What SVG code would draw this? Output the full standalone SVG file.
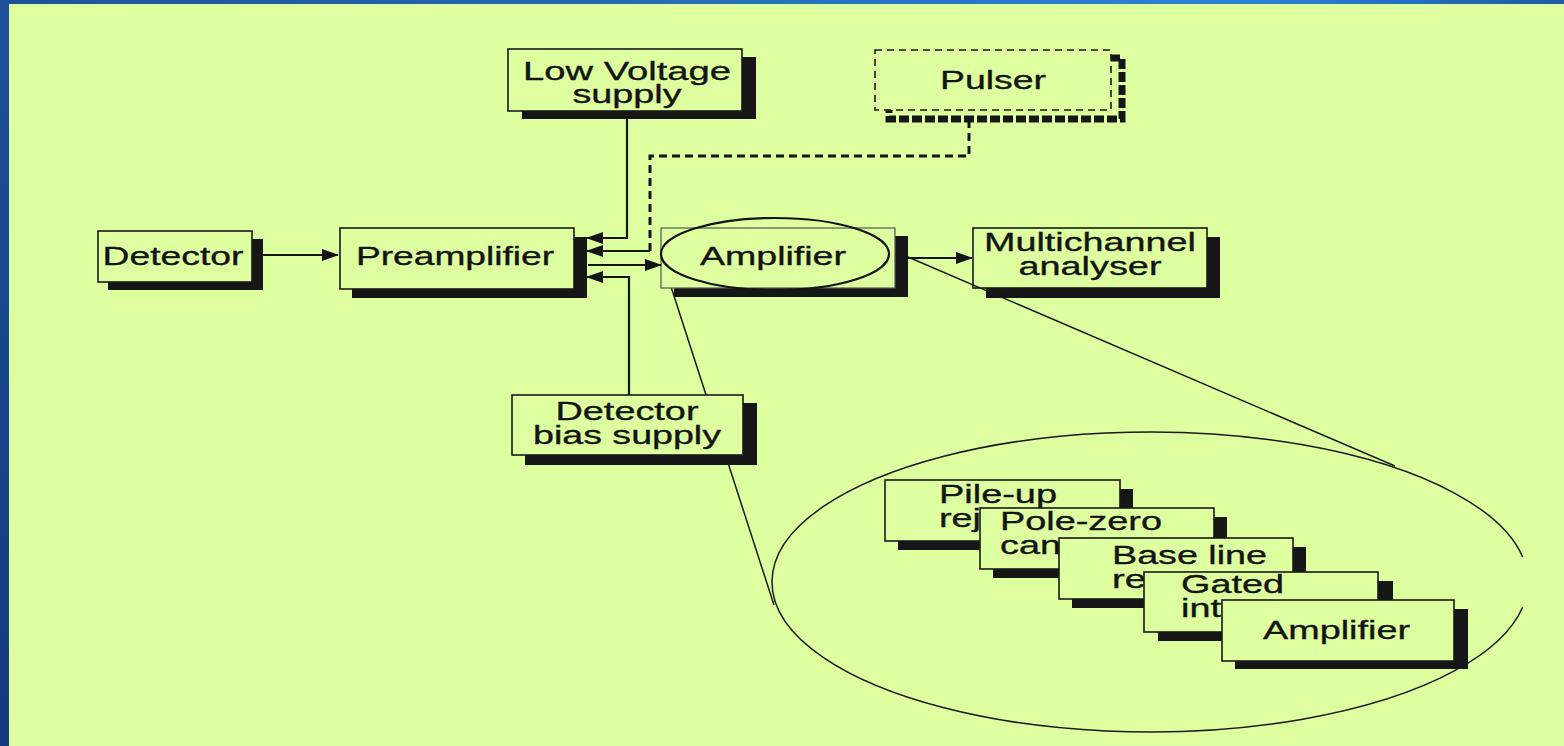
<svg xmlns="http://www.w3.org/2000/svg" width="1564" height="746" viewBox="0 0 1564 746">
<style>
.bx{fill:#DDFFA0;stroke:#1a1a1a;stroke-width:1.6}
.bxl{fill:#DDFFA0;stroke:#555;stroke-width:1.2}
.sh{fill:#161616}
.t{font-family:"Liberation Sans",Arial,sans-serif;font-size:26px;fill:#141414;stroke:#141414;stroke-width:0.35}
.c{text-anchor:middle}
.ln{fill:none;stroke:#141414;stroke-width:2.2}
.dl{fill:none;stroke:#141414;stroke-width:3;stroke-dasharray:8 5}
.th{fill:none;stroke:#1a1a1a;stroke-width:1.5}
</style>
<defs>
<marker id="ah" markerWidth="17" markerHeight="12" refX="16" refY="6" orient="auto" markerUnits="userSpaceOnUse"><path d="M0,0 L17,6 L0,12 z" fill="#141414"/></marker>
<linearGradient id="gl" x1="0" y1="0" x2="0" y2="1"><stop offset="0" stop-color="#1d5199"/><stop offset="1" stop-color="#133a7c"/></linearGradient>
<linearGradient id="gt" x1="0" y1="0" x2="1" y2="0"><stop offset="0" stop-color="#1d5199"/><stop offset="0.8" stop-color="#2c83d4"/><stop offset="1" stop-color="#1d5aa8"/></linearGradient>
</defs>
<rect width="1564" height="746" fill="#DDFFA0"/>
<rect x="0" y="0" width="1564" height="4" fill="url(#gt)"/>
<rect x="0" y="0" width="9" height="746" fill="url(#gl)"/>

<g id="magnifier-left">
<path class="th" d="M663,262 L774,605"/>
</g>

<g id="detector">
<rect class="sh" x="108" y="239" width="155" height="51"/>
<rect class="bx" x="98" y="231" width="154" height="51"/>
<text class="t c" x="173" y="265" textLength="141" lengthAdjust="spacingAndGlyphs">Detector</text>
</g>
<g id="preamplifier">
<rect class="sh" x="352" y="237" width="235" height="61"/>
<rect class="bx" x="340" y="228" width="234" height="61"/>
<text class="t c" x="455" y="265" textLength="198" lengthAdjust="spacingAndGlyphs">Preamplifier</text>
</g>
<g id="low-voltage-supply">
<rect class="sh" x="522" y="57" width="234" height="62"/>
<rect class="bx" x="508" y="49" width="234" height="62"/>
<text class="t c" x="627" y="80" textLength="208" lengthAdjust="spacingAndGlyphs">Low Voltage</text>
<text class="t c" x="627" y="103" textLength="109" lengthAdjust="spacingAndGlyphs">supply</text>
</g>
<g id="pulser">
<rect x="889" y="58" width="233" height="61" fill="none" stroke="#161616" stroke-width="7" stroke-dasharray="10 3"/>
<rect class="bx" x="875" y="50" width="236" height="60" stroke-dasharray="7 5"/>
<text class="t c" x="993" y="89" textLength="106" lengthAdjust="spacingAndGlyphs">Pulser</text>
</g>
<g id="amplifier">
<rect class="sh" x="674" y="236" width="234" height="61"/>
<rect class="bxl" x="661" y="228" width="234" height="60"/>
<text class="t c" x="773" y="265" textLength="146" lengthAdjust="spacingAndGlyphs">Amplifier</text>
</g>
<g id="multichannel-analyser">
<rect class="sh" x="986" y="237" width="234" height="61"/>
<rect class="bx" x="973" y="228" width="234" height="60"/>
<text class="t c" x="1090" y="251" textLength="212" lengthAdjust="spacingAndGlyphs">Multichannel</text>
<text class="t c" x="1090" y="275" textLength="143" lengthAdjust="spacingAndGlyphs">analyser</text>
</g>

<g id="magnifier">
<ellipse class="ln" cx="775" cy="254" rx="114" ry="36"/>
<path class="th" d="M908,257 L1395,466"/>
<path class="th" d="M1522.7,557 A378,150 0 1 0 1522.7,607"/>
</g>

<g id="detector-bias-supply">
<rect class="sh" x="525" y="403" width="232" height="62"/>
<rect class="bx" x="512" y="395" width="231" height="60"/>
<text class="t c" x="627" y="420" textLength="143" lengthAdjust="spacingAndGlyphs">Detector</text>
<text class="t c" x="627" y="444" textLength="188" lengthAdjust="spacingAndGlyphs">bias supply</text>
</g>

<g id="connectors">
<path class="ln" d="M263,255 H338" marker-end="url(#ah)"/>
<path class="ln" d="M627,119 V238 H587" marker-end="url(#ah)"/>
<path class="dl" d="M969,120 V156 H650 V251"/>
<path class="ln" d="M650,251 H587" marker-end="url(#ah)"/>
<path class="ln" d="M588,265 H661" marker-end="url(#ah)"/>
<path class="ln" d="M629,395 V277 H587" marker-end="url(#ah)"/>
<path class="ln" d="M908,258 H972" marker-end="url(#ah)"/>
</g>

<g id="pile-up-rejection">
<rect class="sh" x="898" y="489" width="235" height="61"/>
<rect class="bx" x="885" y="480" width="235" height="61"/>
<text class="t" x="939" y="503" textLength="118" lengthAdjust="spacingAndGlyphs">Pile-up</text>
<text class="t" x="939" y="527" textLength="42" lengthAdjust="spacingAndGlyphs">rej</text>
</g>
<g id="pole-zero-cancellation">
<rect class="sh" x="993" y="517" width="234" height="61"/>
<rect class="bx" x="980" y="508" width="234" height="61"/>
<text class="t" x="1000" y="530" textLength="162" lengthAdjust="spacingAndGlyphs">Pole-zero</text>
<text class="t" x="1000" y="554" textLength="61" lengthAdjust="spacingAndGlyphs">can</text>
</g>
<g id="base-line-restorer">
<rect class="sh" x="1072" y="547" width="234" height="61"/>
<rect class="bx" x="1059" y="538" width="234" height="61"/>
<text class="t" x="1112" y="564" textLength="155" lengthAdjust="spacingAndGlyphs">Base line</text>
<text class="t" x="1112" y="588" textLength="34" lengthAdjust="spacingAndGlyphs">re</text>
</g>
<g id="gated-integrator">
<rect class="sh" x="1158" y="581" width="235" height="60"/>
<rect class="bx" x="1144" y="572" width="234" height="60"/>
<text class="t" x="1181" y="593" textLength="103" lengthAdjust="spacingAndGlyphs">Gated</text>
<text class="t" x="1181" y="617" textLength="40" lengthAdjust="spacingAndGlyphs">int</text>
</g>
<g id="inner-amplifier">
<rect class="sh" x="1235" y="609" width="233" height="60"/>
<rect class="bx" x="1222" y="600" width="232" height="61"/>
<text class="t" x="1263" y="639" textLength="147" lengthAdjust="spacingAndGlyphs">Amplifier</text>
</g>
</svg>
